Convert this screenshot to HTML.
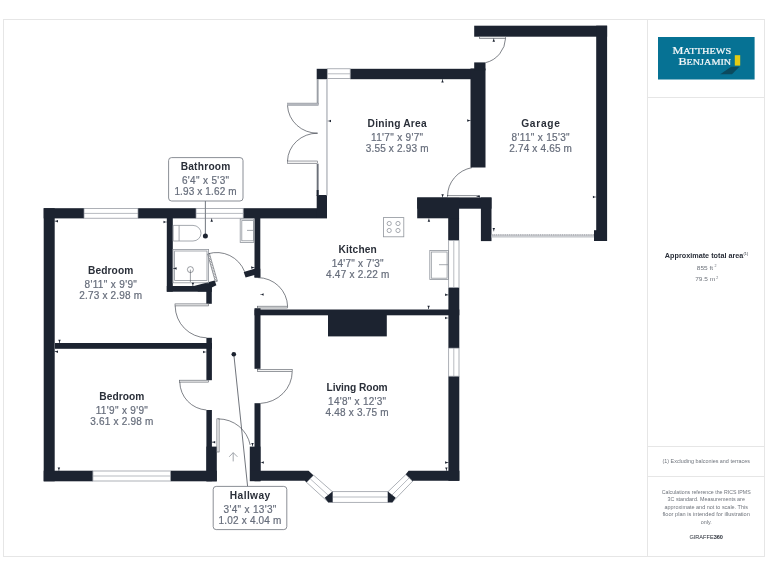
<!DOCTYPE html>
<html>
<head>
<meta charset="utf-8">
<title>Floor plan</title>
<style>
html,body{margin:0;padding:0;background:#fff;}
body{width:768px;height:576px;overflow:hidden;font-family:"Liberation Sans",sans-serif;}
svg{display:block;will-change:transform;}
.w{fill:#1c2330;}
.t{font-family:"Liberation Sans",sans-serif;font-weight:bold;font-size:10.2px;fill:#2a2f39;}
.d{font-family:"Liberation Sans",sans-serif;font-size:10px;fill:#666d7b;stroke:#666d7b;stroke-width:0.2;}
.arc{fill:none;stroke:#2a2f39;stroke-width:0.6;}
.leaf{fill:#f4f4f4;stroke:#555a63;stroke-width:0.6;}
.win{fill:#fff;stroke:#8a8f98;stroke-width:0.7;}
.wl{stroke:#9a9ea6;stroke-width:0.7;fill:none;}
.fx{fill:none;stroke:#8f949c;stroke-width:0.8;}
.box{fill:#fff;stroke:#6d727b;stroke-width:0.8;}
.ld{stroke:#4d525b;stroke-width:0.8;fill:none;}
.mk{fill:#1c2330;}
.s1{font-family:"Liberation Sans",sans-serif;font-size:5.4px;fill:#6f747c;text-anchor:middle;}
</style>
</head>
<body>
<svg width="768" height="576" viewBox="0 0 768 576">
<rect x="0" y="0" width="768" height="576" fill="#fff"/>

<!-- page frame -->
<g id="frame" fill="none" stroke="#e6e6e6" stroke-width="1" shape-rendering="crispEdges">
<rect x="3.5" y="19.5" width="761" height="537"/>
<line x1="647.5" y1="19.5" x2="647.5" y2="556.5"/>
<line x1="647.5" y1="97.5" x2="764.5" y2="97.5"/>
<line x1="647.5" y1="446.5" x2="764.5" y2="446.5"/>
<line x1="647.5" y1="476.5" x2="764.5" y2="476.5"/>
</g>

<!-- WALLS -->
<g id="walls" class="w">
<!-- bedrooms block -->
<rect x="43.7" y="208.2" width="11" height="273.1"/>
<rect x="43.7" y="208.2" width="40.3" height="10.2"/>
<rect x="138" y="208.2" width="58" height="10.2"/>
<rect x="243.2" y="208.2" width="83.8" height="10.2"/>
<rect x="316.7" y="195" width="10.3" height="23"/>
<rect x="166.8" y="218" width="6" height="73.7"/>
<rect x="166.8" y="286" width="45" height="5.7"/>
<polygon points="193,286.2 214.6,280.6 216.4,285.2 211.8,287.4 211.8,291.5 198,291.5"/>
<rect x="206.3" y="291" width="5.5" height="12.8"/>
<rect x="254.5" y="218" width="5.8" height="59.5"/>
<polygon points="243.7,272 254.5,268.8 260.3,268.8 260.3,277.5 254.5,277.5 254.5,275 245.6,277.6"/>
<rect x="55" y="343" width="157" height="5.8"/>
<rect x="206.4" y="337.8" width="5.5" height="42.4"/>
<rect x="206.4" y="410" width="5.5" height="71.2"/>
<rect x="206.4" y="446.6" width="10.4" height="34.7"/>
<rect x="43.7" y="470.7" width="49.2" height="10.6"/>
<rect x="170.5" y="470.7" width="46.3" height="10.6"/>
<!-- living room -->
<rect x="254.5" y="308.2" width="6" height="60.6"/>
<rect x="254.5" y="403.2" width="6" height="78"/>
<rect x="249.8" y="446.6" width="10.7" height="34.6"/>
<rect x="254.5" y="309.5" width="204.8" height="5.8"/>
<rect x="328" y="315" width="58.8" height="21.4"/>
<rect x="448.2" y="218" width="10.9" height="22.3"/>
<rect x="448.4" y="287.5" width="10.9" height="60.6"/>
<rect x="448.4" y="376.2" width="10.9" height="104.6"/>
<polygon points="250,470.8 308.6,470.8 313.6,475.4 306.6,482.4 304.8,480.8 250,480.8"/>
<polygon points="408.6,470.8 459.4,470.8 459.4,480.8 413.2,480.8 412.4,481.6 405.6,474.6"/>
<!-- dining -->
<rect x="316.7" y="68.8" width="10.6" height="10.4"/>
<rect x="350.2" y="68.8" width="124" height="10.4"/>
<rect x="470.5" y="68.5" width="15" height="99"/>
<rect x="474.2" y="62.4" width="11.3" height="8"/>
<!-- garage -->
<rect x="474.2" y="25.7" width="132.9" height="11"/>
<rect x="596.2" y="25.7" width="10.9" height="215.3"/>
<rect x="594" y="230.2" width="4" height="10.8"/>
<!-- block between kitchen and garage -->
<rect x="417.2" y="197.5" width="74.3" height="11.2"/>
<rect x="417.2" y="197.5" width="41.9" height="20.8"/>
<rect x="480.9" y="197.5" width="10.6" height="43.6"/>
</g>

<!-- WINDOWS -->
<g id="windows">
<!-- bedroom 1 top -->
<rect class="win" x="84" y="208.5" width="54" height="9.7"/>
<line class="wl" x1="84" y1="213.4" x2="138" y2="213.4" stroke-width="1"/>
<!-- bathroom top -->
<rect class="win" x="196" y="208.5" width="47.2" height="9.7"/>
<line class="wl" x1="196" y1="213.4" x2="243.2" y2="213.4" stroke-width="1"/>
<!-- bedroom 2 bottom -->
<rect class="win" x="92.9" y="471" width="77.6" height="10"/>
<line class="wl" x1="92.9" y1="476" x2="170.5" y2="476" stroke-width="1"/>
<!-- dining top -->
<rect class="win" x="327.3" y="68.8" width="22.9" height="9.8"/>
<line class="wl" x1="327.3" y1="73.8" x2="350.2" y2="73.8" stroke-width="1.4"/>
<!-- kitchen east -->
<rect class="win" x="448.7" y="240.4" width="10.3" height="47.1"/>
<line class="wl" x1="453.8" y1="240.4" x2="453.8" y2="287.5"/>
<!-- living east -->
<rect class="win" x="448.7" y="348.1" width="10.3" height="28.1"/>
<line class="wl" x1="453.8" y1="348.1" x2="453.8" y2="376.2"/>
<!-- bay window -->
<polygon class="win" points="313.6,475.2 332.4,491.7 328.4,502.3 306.6,482.4"/>
<line class="wl" x1="310.2" y1="478.8" x2="330.2" y2="497"/>
<rect class="win" x="332.4" y="491.7" width="55.6" height="10.6"/>
<line class="wl" x1="332.4" y1="497" x2="388" y2="497"/>
<polygon class="win" points="388,491.7 405.8,474.6 412.6,481.2 392.2,502.3"/>
<line class="wl" x1="391.8" y1="495.2" x2="409.2" y2="477.9"/>
<!-- bay corners -->
<polygon class="w" points="332.5,491.4 324.7,497.8 328.4,502.5 332.5,502.5"/>
<polygon class="w" points="387.9,491.4 395.7,497.8 392.3,502.5 387.9,502.5"/>
</g>

<!-- dining west glazed wall -->
<g id="dwest">
<rect x="316.7" y="79" width="1.9" height="25" fill="#9b9fa6"/>
<rect x="316.7" y="163.7" width="1.9" height="32" fill="#6b7079"/>
<rect x="316.7" y="190" width="1.9" height="6" fill="#1c2330"/>
<rect x="326.2" y="79" width="1.5" height="116.5" fill="#b9bcc2"/>
<!-- french doors -->
<rect x="287.3" y="103" width="31.2" height="2.6" fill="#b4b7bd" stroke="#8d9199" stroke-width="0.4"/>
<rect x="287.3" y="161" width="30.4" height="2.7" fill="#f2f2f2" stroke="#4c515b" stroke-width="0.5"/>
<path class="arc" d="M287.5,105.6 A30,29 0 0 0 317.6,133.2"/>
<path class="arc" d="M287.5,161 A30,28.5 0 0 1 317.6,133.2"/>
</g>

<!-- DOORS -->
<g id="doors">
<!-- garage side door (top) -->
<rect class="leaf" x="479.4" y="36.8" width="26.2" height="1.6"/>
<path class="arc" d="M505.6,38.2 A26.2,26.2 0 0 1 485.5,62.7"/>
<!-- dining / garage door -->
<rect class="leaf" x="447.6" y="195.5" width="31" height="1.8"/>
<path class="arc" d="M447.6,196 A30.5,29 0 0 1 472,167.6"/>
<!-- bathroom door -->
<polygon class="leaf" points="207.6,254 209.4,253.4 217.4,281.2 215.4,281.8"/>
<line x1="207.84" y1="254.51" x2="210.04" y2="256.91" stroke="#50555e" stroke-width="0.45"/>
<line x1="208.72" y1="257.53" x2="210.92" y2="259.93" stroke="#50555e" stroke-width="0.45"/>
<line x1="209.59" y1="260.56" x2="211.79" y2="262.96" stroke="#50555e" stroke-width="0.45"/>
<line x1="210.47" y1="263.58" x2="212.67" y2="265.98" stroke="#50555e" stroke-width="0.45"/>
<line x1="211.35" y1="266.60" x2="213.55" y2="269.00" stroke="#50555e" stroke-width="0.45"/>
<line x1="212.23" y1="269.62" x2="214.43" y2="272.02" stroke="#50555e" stroke-width="0.45"/>
<line x1="213.11" y1="272.64" x2="215.31" y2="275.04" stroke="#50555e" stroke-width="0.45"/>
<line x1="213.98" y1="275.67" x2="216.18" y2="278.07" stroke="#50555e" stroke-width="0.45"/>
<line x1="214.86" y1="278.69" x2="217.06" y2="281.09" stroke="#50555e" stroke-width="0.45"/>
<path class="arc" d="M208,253.8 A30,30 0 0 1 244.6,271.6"/>
<!-- kitchen door -->
<rect class="leaf" x="257.6" y="306.2" width="30" height="1.8"/>
<path class="arc" d="M257.8,277.6 A30,29.5 0 0 1 287.6,306.4"/>
<!-- bedroom 1 door -->
<rect class="leaf" x="175" y="303.9" width="33.6" height="2"/>
<path class="arc" d="M175.2,306 A32,32 0 0 0 206.6,337.8"/>
<!-- bedroom 2 door -->
<rect class="leaf" x="179.6" y="380.2" width="29" height="1.9"/>
<path class="arc" d="M179.8,382 A28.5,28.5 0 0 0 206.4,410"/>
<!-- living room door -->
<rect class="leaf" x="257.6" y="369.3" width="34.6" height="2.4"/>
<path class="arc" d="M292.2,371.6 A33.6,32 0 0 1 260.5,403.4"/>
<!-- front door -->
<rect class="leaf" x="216.9" y="418.8" width="2.2" height="33.2"/>
<path class="arc" d="M218.4,418.9 A32.5,32.5 0 0 1 250.2,445"/>
</g>

<!-- garage main door -->
<g id="gdoor">
<rect x="491.5" y="234.5" width="102.5" height="3.1" fill="#cbcdd1"/>
<line x1="491.5" y1="234.9" x2="594" y2="234.9" stroke="#8e9299" stroke-width="0.9" stroke-dasharray="1.2 1"/>
</g>

<!-- FIXTURES -->
<g id="fixtures">
<!-- toilet -->
<path class="fx" d="M173.2,225.4 H193 A8,7.8 0 0 1 193,241 H173.2 Z" stroke-width="1.1" stroke="#9a9ea5"/>
<line class="fx" x1="179.1" y1="225.4" x2="179.1" y2="241" stroke-width="1.1" stroke="#9a9ea5"/>
<!-- basin -->
<rect class="fx" x="240.2" y="219" width="13.6" height="23.4"/>
<rect class="fx" x="241.8" y="220.6" width="11.6" height="20.2" stroke-width="0.5"/>
<line class="fx" x1="247" y1="230.4" x2="253.6" y2="230.4"/>
<!-- shower -->
<rect class="fx" x="173" y="249.4" width="35.6" height="33.4" stroke-width="1"/>
<rect class="fx" x="174.6" y="251" width="32.4" height="29.4" stroke-width="0.5"/>
<circle cx="190.4" cy="269.6" r="3" fill="#fff" stroke="#4a4f58" stroke-width="0.55"/>
<line x1="190.4" y1="269.6" x2="190.4" y2="282" stroke="#4a4f58" stroke-width="0.55"/>
<!-- hob -->
<rect class="fx" x="383.4" y="217.6" width="20.4" height="19.2" stroke="#a3a7ad"/>
<circle class="fx" cx="389.2" cy="223.5" r="2.1" stroke-width="0.7"/>
<circle class="fx" cx="398" cy="223.5" r="2.1" stroke-width="0.7"/>
<circle class="fx" cx="389.2" cy="230.5" r="2.1" stroke-width="0.7"/>
<circle class="fx" cx="398" cy="230.5" r="2.1" stroke-width="0.7"/>
<!-- kitchen sink -->
<rect class="fx" x="429.8" y="250.5" width="18.6" height="29" stroke="#8a8e96"/>
<rect class="fx" x="431.3" y="252" width="15.8" height="26.2" stroke="#5d626b" stroke-width="0.6"/>
<line class="fx" x1="439" y1="264.7" x2="448" y2="264.7"/>
</g>

<!-- LEADERS -->
<g id="leaders">
<line x1="205.4" y1="201" x2="205.4" y2="235.6" stroke="#7d828a" stroke-width="1.1"/>
<circle cx="205.4" cy="236.1" r="2.5" fill="#1c2330"/>
<line class="ld" x1="233.8" y1="354.2" x2="247.6" y2="486.4"/>
<circle cx="233.8" cy="354.2" r="2.3" fill="#1c2330"/>
</g>

<!-- entrance arrow -->
<g id="arrow" fill="none" stroke="#8b9098" stroke-width="0.8">
<path d="M233.2,461.4 V452.8 M229.2,456.8 L233.2,452.6 L237.4,456.8"/>
</g>

<!-- LABEL BOXES -->
<rect class="box" x="168.6" y="157.6" width="74.4" height="43.4" rx="3" ry="3"/>
<rect class="box" x="213.2" y="486.4" width="73.6" height="43.2" rx="3" ry="3"/>

<!-- MARKERS -->
<g id="markers" class="mk">
<path d="M441.35,194.20 H443.85 L442.95,196.30 V197.50 H442.25 V196.30 Z"/>
<path d="M479.90,195.15 V197.65 L477.80,196.75 H476.60 V196.05 H477.80 Z"/>
<path d="M427.65,221.70 H430.15 L429.25,219.60 V218.40 H428.55 V219.60 Z"/>
<path d="M492.55,227.90 H495.05 L494.15,230.00 V231.20 H493.45 V230.00 Z"/>
<path d="M58.00,219.95 V222.45 L55.90,221.55 H54.70 V220.85 H55.90 Z"/>
<path d="M163.50,220.75 V223.25 L165.60,222.35 H166.80 V221.65 H165.60 Z"/>
<path d="M210.45,221.70 H212.95 L212.05,219.60 V218.40 H211.35 V219.60 Z"/>
<path d="M176.60,267.15 V269.65 L174.50,268.75 H173.30 V268.05 H174.50 Z"/>
<path d="M191.65,282.70 H194.15 L193.25,284.80 V286.00 H192.55 V284.80 Z"/>
<path d="M251.20,266.35 V268.85 L253.30,267.95 H254.50 V267.25 H253.30 Z"/>
<path d="M263.60,293.25 V295.75 L261.50,294.85 H260.30 V294.15 H261.50 Z"/>
<path d="M58.25,339.70 H60.75 L59.85,341.80 V343.00 H59.15 V341.80 Z"/>
<path d="M58.00,350.45 V352.95 L55.90,352.05 H54.70 V351.35 H55.90 Z"/>
<path d="M203.10,350.75 V353.25 L205.20,352.35 H206.40 V351.65 H205.20 Z"/>
<path d="M57.65,467.40 H60.15 L59.25,469.50 V470.70 H58.55 V469.50 Z"/>
<path d="M215.20,440.95 V443.45 L213.10,442.55 H211.90 V441.85 H213.10 Z"/>
<path d="M251.25,442.90 H253.75 L252.85,445.00 V446.20 H252.15 V445.00 Z"/>
<path d="M263.80,461.25 V463.75 L261.70,462.85 H260.50 V462.15 H261.70 Z"/>
<path d="M331.00,119.75 V122.25 L328.90,121.35 H327.70 V120.65 H328.90 Z"/>
<path d="M441.25,82.50 H443.75 L442.85,80.40 V79.20 H442.15 V80.40 Z"/>
<path d="M467.20,119.35 V121.85 L469.30,120.95 H470.50 V120.25 H469.30 Z"/>
<path d="M492.50,41.70 H495.00 L494.10,39.60 V38.40 H493.40 V39.60 Z"/>
<path d="M592.90,195.75 V198.25 L595.00,197.35 H596.20 V196.65 H595.00 Z"/>
<path d="M445.10,293.55 V296.05 L447.20,295.15 H448.40 V294.45 H447.20 Z"/>
<path d="M427.35,305.70 H429.85 L428.95,307.80 V309.00 H428.25 V307.80 Z"/>
<path d="M445.10,316.75 V319.25 L447.20,318.35 H448.40 V317.65 H447.20 Z"/>
<path d="M445.10,461.35 V463.85 L447.20,462.95 H448.40 V462.25 H447.20 Z"/>
<path d="M445.15,467.50 H447.65 L446.75,469.60 V470.80 H446.05 V469.60 Z"/>
</g>

<!-- ROOM LABELS -->
<g id="labels">
<text class="t" x="180.65" y="170.15" textLength="49.70" lengthAdjust="spacing">Bathroom</text>
<text class="d" x="181.90" y="184.00" textLength="47.20" lengthAdjust="spacing">6'4&quot; x 5'3&quot;</text>
<text class="d" x="174.40" y="195.25" textLength="62.20" lengthAdjust="spacing">1.93 x 1.62 m</text>
<text class="t" x="88.10" y="273.65" textLength="45.20" lengthAdjust="spacing">Bedroom</text>
<text class="d" x="84.55" y="287.50" textLength="52.30" lengthAdjust="spacing">8'11&quot; x 9'9&quot;</text>
<text class="d" x="79.22" y="298.75" textLength="62.95" lengthAdjust="spacing">2.73 x 2.98 m</text>
<text class="t" x="99.25" y="400.00" textLength="45.10" lengthAdjust="spacing">Bedroom</text>
<text class="d" x="95.70" y="413.85" textLength="52.20" lengthAdjust="spacing">11'9&quot; x 9'9&quot;</text>
<text class="d" x="90.20" y="425.10" textLength="63.20" lengthAdjust="spacing">3.61 x 2.98 m</text>
<text class="t" x="367.62" y="127.30" textLength="58.95" lengthAdjust="spacing">Dining Area</text>
<text class="d" x="371.12" y="141.15" textLength="51.95" lengthAdjust="spacing">11'7&quot; x 9'7&quot;</text>
<text class="d" x="365.70" y="152.40" textLength="62.80" lengthAdjust="spacing">3.55 x 2.93 m</text>
<text class="t" x="521.20" y="126.65" textLength="38.80" lengthAdjust="spacing">Garage</text>
<text class="d" x="511.62" y="140.50" textLength="57.95" lengthAdjust="spacing">8'11&quot; x 15'3&quot;</text>
<text class="d" x="509.25" y="151.75" textLength="62.70" lengthAdjust="spacing">2.74 x 4.65 m</text>
<text class="t" x="338.60" y="253.00" textLength="38.20" lengthAdjust="spacing">Kitchen</text>
<text class="d" x="331.72" y="266.85" textLength="51.95" lengthAdjust="spacing">14'7&quot; x 7'3&quot;</text>
<text class="d" x="326.10" y="278.10" textLength="63.20" lengthAdjust="spacing">4.47 x 2.22 m</text>
<text class="t" x="326.55" y="391.15" textLength="61.10" lengthAdjust="spacing">Living Room</text>
<text class="d" x="328.12" y="405.00" textLength="57.95" lengthAdjust="spacing">14'8&quot; x 12'3&quot;</text>
<text class="d" x="325.50" y="416.25" textLength="63.20" lengthAdjust="spacing">4.48 x 3.75 m</text>
<text class="t" x="229.85" y="499.15" textLength="40.30" lengthAdjust="spacing">Hallway</text>
<text class="d" x="223.60" y="513.00" textLength="52.80" lengthAdjust="spacing">3'4&quot; x 13'3&quot;</text>
<text class="d" x="218.60" y="524.25" textLength="62.80" lengthAdjust="spacing">1.02 x 4.04 m</text>
</g>

<!-- SIDE PANEL -->
<g id="side">
<rect x="658" y="37" width="96.6" height="42.5" fill="#067294"/>
<polygon points="720.2,74.2 732,74.2 739.4,66.8 731.2,66.8" fill="#0b4a5e"/>
<rect x="734.8" y="55.2" width="5.4" height="10.4" fill="#e3cb14"/>
<text x="731.2" y="54.2" font-family="Liberation Serif,serif" font-size="10.4px" fill="#f4f8f9" stroke="#f4f8f9" stroke-width="0.22" text-anchor="end" textLength="58.8" lengthAdjust="spacingAndGlyphs">M<tspan font-size="8.7px">ATTHEWS</tspan></text>
<text x="731.2" y="65.2" font-family="Liberation Serif,serif" font-size="10.4px" fill="#f4f8f9" stroke="#f4f8f9" stroke-width="0.22" text-anchor="end" textLength="52.8" lengthAdjust="spacingAndGlyphs">B<tspan font-size="8.7px">ENJAMIN</tspan></text>

<text x="664.8" y="257.8" font-family="Liberation Sans,sans-serif" font-weight="bold" font-size="7px" fill="#2a2f39" textLength="78.6" lengthAdjust="spacingAndGlyphs">Approximate total area</text>
<text x="743.6" y="254.6" font-family="Liberation Sans,sans-serif" font-size="3.8px" fill="#2a2f39">(1)</text>
<text class="s1" x="705" y="269.9" style="font-size:6px" textLength="16.4" lengthAdjust="spacingAndGlyphs">855 ft</text>
<text class="s1" x="715.4" y="267.4" style="font-size:3.6px">2</text>
<text class="s1" x="705.2" y="281.3" style="font-size:6px" textLength="20" lengthAdjust="spacingAndGlyphs">79.5 m</text>
<text class="s1" x="717.2" y="278.8" style="font-size:3.6px">2</text>

<text class="s1" x="706.2" y="463.1" textLength="87.4" lengthAdjust="spacingAndGlyphs">(1) Excluding balconies and terraces</text>
<text class="s1" x="706.2" y="493.6" textLength="89" lengthAdjust="spacingAndGlyphs">Calculations reference the RICS IPMS</text>
<text class="s1" x="706.2" y="500.9" textLength="77.4" lengthAdjust="spacingAndGlyphs">3C standard. Measurements are</text>
<text class="s1" x="706.2" y="508.6" textLength="83.4" lengthAdjust="spacingAndGlyphs">approximate and not to scale. This</text>
<text class="s1" x="706.2" y="516.1" textLength="87.4" lengthAdjust="spacingAndGlyphs">floor plan is intended for illustration</text>
<text class="s1" x="706.2" y="523.6">only.</text>
<text x="706.2" y="539" font-family="Liberation Sans,sans-serif" font-size="5.6px" fill="#2a2f39" text-anchor="middle">GIRAFFE<tspan font-weight="bold">360</tspan></text>
</g>
</svg>
</body>
</html>
